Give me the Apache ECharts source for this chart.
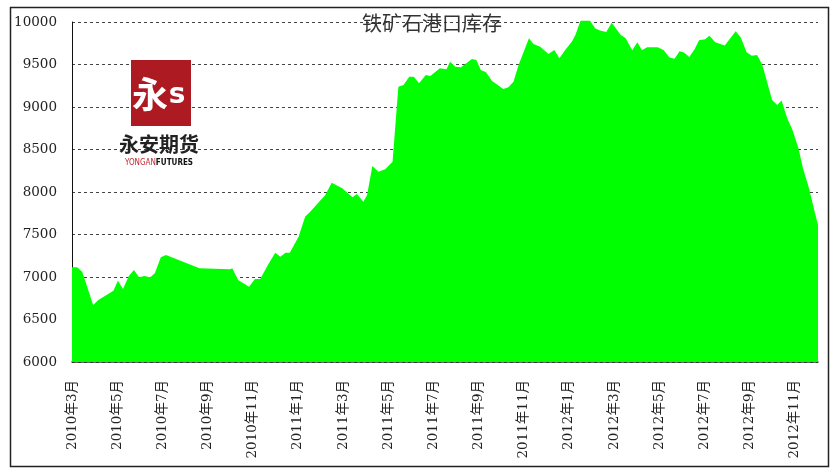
<!DOCTYPE html>
<html>
<head>
<meta charset="utf-8">
<script src="https://cdn.jsdelivr.net/npm/echarts@6/dist/echarts.min.js"></script>
<style>
html,body{margin:0;padding:0;background:#fff;}
#chart{width:830px;height:468px;}
</style>
</head>
<body>
<div id="chart"></div>
<script>
const chartTitle = '铁矿石港口库存';
const dates = [
'2010-03-01','2010-03-08','2010-03-15','2010-03-30','2010-04-06','2010-04-26','2010-05-02','2010-05-09',
'2010-05-17','2010-05-24','2010-05-31','2010-06-07','2010-06-15','2010-06-21','2010-06-29','2010-07-06',
'2010-08-21','2010-10-01','2010-10-04','2010-10-12','2010-10-27','2010-11-04','2010-11-11','2010-11-22',
'2010-12-01','2010-12-08','2010-12-15','2010-12-21','2011-01-02','2011-01-11','2011-01-18','2011-02-07',
'2011-02-15','2011-02-28','2011-03-14','2011-03-20','2011-03-29','2011-04-03','2011-04-10','2011-04-18',
'2011-04-27','2011-05-07','2011-05-15','2011-05-22','2011-05-30','2011-06-05','2011-06-12','2011-06-21',
'2011-06-27','2011-07-10','2011-07-19','2011-07-24','2011-07-31','2011-08-08','2011-08-23','2011-08-29',
'2011-09-04','2011-09-11','2011-09-19','2011-10-04','2011-10-11','2011-10-18','2011-10-25','2011-11-08',
'2011-11-14','2011-11-23','2011-12-04','2011-12-12','2011-12-19','2011-12-27','2012-01-05','2012-01-10',
'2012-01-17','2012-01-30','2012-02-06','2012-02-12','2012-02-20','2012-02-27','2012-03-10','2012-03-17',
'2012-03-26','2012-04-02','2012-04-08','2012-04-15','2012-04-29','2012-05-07','2012-05-15','2012-05-22',
'2012-05-29','2012-06-04','2012-06-11','2012-06-18','2012-06-24','2012-07-02','2012-07-08','2012-07-16',
'2012-07-29','2012-08-13','2012-08-20','2012-08-28','2012-09-04','2012-09-11','2012-09-18','2012-10-01',
'2012-10-08','2012-10-14','2012-10-22','2012-10-29','2012-11-06','2012-11-12','2012-11-20','2012-11-28',
'2012-12-02'
];
const stock = [
7114,7114,7062,6671,6729,6839,6957,6859,
7012,7082,6996,7012,6996,7043,7232,7259,
7102,7090,7102,6965,6886,6976,6976,7153,
7286,7239,7286,7286,7474,7709,7768,7965,
8109,8043,7937,7976,7886,7965,8306,8239,
8267,8357,9239,9259,9357,9357,9278,9376,
9365,9455,9443,9533,9474,9467,9565,9553,
9435,9408,9306,9212,9232,9298,9494,9808,
9741,9710,9624,9671,9573,9671,9768,9847,
10015,10015,9925,9900,9882,9992,9850,9808,
9667,9761,9667,9702,9702,9671,9582,9569,
9655,9641,9588,9678,9784,9798,9839,9762,
9725,9890,9818,9643,9604,9612,9498,9082,
9025,9076,8863,8729,8514,8279,8043,7749,
7612
];
const xTickLabels = ['2010年3月','2010年5月','2010年7月','2010年9月','2010年11月','2011年1月','2011年3月',
'2011年5月','2011年7月','2011年9月','2011年11月','2012年1月','2012年3月','2012年5月','2012年7月',
'2012年9月','2012年11月'];
const yMin = 6000, yMax = 10000, yStep = 500;

function monthIndex(s){
  const p = s.split('-').map(Number);
  const dim = new Date(p[0], p[1], 0).getDate();
  return (p[0]-2010)*12 + (p[1]-3) + (p[2]-1)/dim;
}
function labelIndex(l){
  const m = l.match(/(\d+)年(\d+)月/);
  return (Number(m[1])-2010)*12 + (Number(m[2])-3);
}
const tickPos = xTickLabels.map(labelIndex);
const labelMap = {};
xTickLabels.forEach((l,i)=>{ labelMap[tickPos[i]] = l; });
const seriesData = dates.map((d,i)=>[monthIndex(d), stock[i]]);

const chart = echarts.init(document.getElementById('chart'), null, {renderer:'canvas'});
chart.setOption({
  animation:false,
  backgroundColor:'#ffffff',
  grid:{left:72, right:12, top:22, bottom:106, containLabel:false},
  xAxis:{
    type:'value', min:0, max:monthIndex(dates[dates.length-1]),
    splitLine:{show:false},
    axisLine:{show:true, onZero:false, lineStyle:{color:'#333', width:1.5}},
    axisTick:{show:true, inside:true, length:5, customValues:tickPos, lineStyle:{color:'#222', width:1}},
    axisLabel:{
      customValues:tickPos, rotate:90, margin:18, color:'#222',
      fontFamily:'"DejaVu Serif","Noto Sans CJK SC",serif', fontSize:13.5,
      padding:[0,0,10,0],
      formatter:function(v){ return labelMap[Math.round(v)] || ''; }
    }
  },
  yAxis:{
    type:'value', min:yMin, max:yMax, interval:yStep,
    axisLine:{show:true, lineStyle:{color:'#111', width:1}},
    axisTick:{show:false},
    splitLine:{show:true, lineStyle:{color:'#444', width:1, type:[3,3]}},
    axisLabel:{margin:15, color:'#222', fontFamily:'"DejaVu Serif",serif', fontSize:13.5,
      formatter:function(v){ return String(v); }}
  },
  series:[{
    type:'line', data:seriesData, symbol:'none', clip:false,
    lineStyle:{width:0, color:'#00ff00'},
    areaStyle:{color:'#00ff00', opacity:1, origin:'start'},
    z:1
  }],
  graphic:[
    {type:'rect', shape:{x:10.5, y:7.5, width:818, height:459}, style:{fill:'none', stroke:'#222', lineWidth:1.5}, silent:true, z:100},
    {type:'text', x:432, y:13, style:{text:chartTitle, fill:'#333', font:'normal 20px "Noto Sans CJK SC"', textAlign:'center', textVerticalAlign:'top'}, z:50},
    {type:'rect', shape:{x:131, y:60, width:60, height:66}, style:{fill:'#ad1a22'}, z:50},
    {type:'text', x:150, y:94, style:{text:'永', fill:'#ffffff', font:'bold 36px "Noto Sans CJK SC"', textAlign:'center', textVerticalAlign:'middle'}, z:51},
    {type:'text', x:177, y:96, style:{text:'s', fill:'#ffffff', font:'bold 28px "DejaVu Sans"', textAlign:'center', textVerticalAlign:'middle'}, z:51},
    {type:'text', x:159, y:144, style:{text:'永安期货', fill:'#222', font:'bold 20px "Noto Sans CJK SC"', textAlign:'center', textVerticalAlign:'middle'}, z:50},
    {type:'text', x:159, y:163, style:{
      text:'{a|YONGAN}{b|FUTURES}', textAlign:'center', textVerticalAlign:'middle',
      rich:{a:{fill:'#c0282e', font:'8px "DejaVu Sans Condensed","DejaVu Sans"'},
            b:{fill:'#111', font:'bold 8px "DejaVu Sans Condensed","DejaVu Sans"'}}
    }, z:50}
  ]
});
</script>
</body>
</html>
